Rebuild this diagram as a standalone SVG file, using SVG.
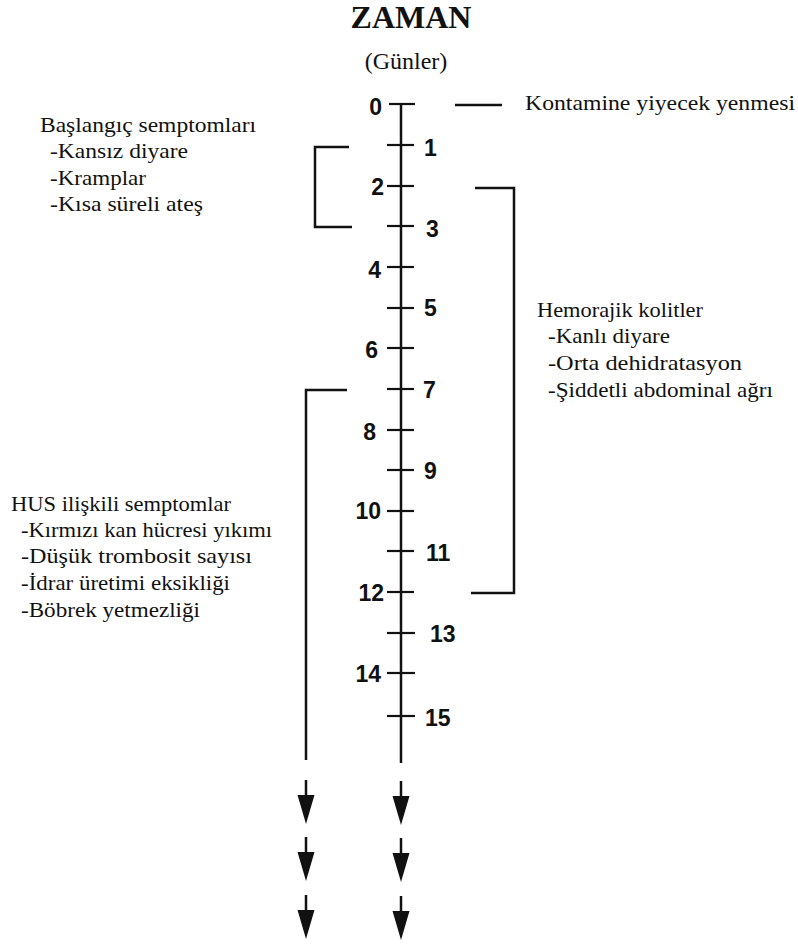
<svg xmlns="http://www.w3.org/2000/svg" xmlns:xlink="http://www.w3.org/1999/xlink" width="798" height="945" viewBox="0 0 798 945">
<style>
.ser{font-family:"Liberation Serif","Times New Roman","DejaVu Serif",serif;font-size:21px;fill:#111}
.num{font-family:"Liberation Sans",Arial,sans-serif;font-size:23px;font-weight:bold;fill:#111}
.ln{stroke:#111;stroke-width:2.5;fill:none}
.tk{stroke:#111;stroke-width:2.2}
.ah{fill:#111}
</style>
<defs>
<g id="arr">
<line x1="0" y1="0" x2="0" y2="17" stroke="#111" stroke-width="2.5"/>
<polygon points="-8.5,15 8.5,15 0,44" class="ah"/>
</g>
</defs>
<rect width="798" height="945" fill="#fff"/>
<g id="title" font-family="'Liberation Serif','Times New Roman',serif">
<text x="411" y="28" text-anchor="middle" font-family="'Liberation Serif','Times New Roman',serif" font-size="32" font-weight="bold" fill="#111">ZAMAN</text>
<text x="406" y="69" text-anchor="middle" class="ser" style="font-size:24px">(Günler)</text>
</g>
<g id="axis">
<line x1="401" y1="104" x2="401" y2="763" class="ln"/>
<g class="tk">
<line x1="389" y1="104" x2="415" y2="104"/>
<line x1="387" y1="145" x2="414" y2="145"/>
<line x1="387" y1="186" x2="414" y2="186"/>
<line x1="387" y1="226" x2="414" y2="226"/>
<line x1="387" y1="267" x2="414" y2="267"/>
<line x1="387" y1="308" x2="414" y2="308"/>
<line x1="387" y1="348" x2="414" y2="348"/>
<line x1="387" y1="389" x2="414" y2="389"/>
<line x1="387" y1="430" x2="414" y2="430"/>
<line x1="387" y1="470" x2="414" y2="470"/>
<line x1="387" y1="511" x2="414" y2="511"/>
<line x1="387" y1="551" x2="414" y2="551"/>
<line x1="387" y1="592" x2="414" y2="592"/>
<line x1="387" y1="633" x2="415" y2="633"/>
<line x1="387" y1="673" x2="415" y2="673"/>
<line x1="387" y1="716" x2="415" y2="716"/>
</g>
<g class="num">
<text x="382" y="115" text-anchor="end">0</text>
<text x="424" y="156">1</text>
<text x="384" y="195" text-anchor="end">2</text>
<text x="426" y="237">3</text>
<text x="381" y="278" text-anchor="end">4</text>
<text x="424" y="316">5</text>
<text x="378" y="358" text-anchor="end">6</text>
<text x="423" y="398">7</text>
<text x="376" y="440" text-anchor="end">8</text>
<text x="424" y="479">9</text>
<text x="381" y="519" text-anchor="end">10</text>
<text x="426" y="561">11</text>
<text x="384" y="601" text-anchor="end">12</text>
<text x="430" y="642">13</text>
<text x="381" y="682" text-anchor="end">14</text>
<text x="425" y="726">15</text>
</g>
</g>
<g id="kontamine">
<text x="525" y="110" class="ser" textLength="270" lengthAdjust="spacingAndGlyphs">Kontamine yiyecek yenmesi</text>
</g>
<g id="baslangic">
<text x="40" y="132" class="ser" textLength="216" lengthAdjust="spacingAndGlyphs">Başlangıç semptomları</text>
<text x="50" y="158" class="ser" textLength="138" lengthAdjust="spacingAndGlyphs">-Kansız diyare</text>
<text x="50" y="185" class="ser" textLength="96" lengthAdjust="spacingAndGlyphs">-Kramplar</text>
<text x="50" y="211" class="ser" textLength="153" lengthAdjust="spacingAndGlyphs">-Kısa süreli ateş</text>
</g>
<g id="hemorajik">
<text x="537" y="317" class="ser" textLength="166" lengthAdjust="spacingAndGlyphs">Hemorajik kolitler</text>
<text x="548" y="343" class="ser" textLength="122" lengthAdjust="spacingAndGlyphs">-Kanlı diyare</text>
<text x="548" y="370" class="ser" textLength="194" lengthAdjust="spacingAndGlyphs">-Orta dehidratasyon</text>
<text x="548" y="397" class="ser" textLength="225" lengthAdjust="spacingAndGlyphs">-Şiddetli abdominal ağrı</text>
</g>
<g id="hus">
<text x="11" y="511" class="ser" textLength="220" lengthAdjust="spacingAndGlyphs">HUS ilişkili semptomlar</text>
<text x="21" y="537" class="ser" textLength="251" lengthAdjust="spacingAndGlyphs">-Kırmızı kan hücresi yıkımı</text>
<text x="21" y="563" class="ser" textLength="231" lengthAdjust="spacingAndGlyphs">-Düşük trombosit sayısı</text>
<text x="21" y="590" class="ser" textLength="209" lengthAdjust="spacingAndGlyphs">-İdrar üretimi eksikliği</text>
<text x="21" y="617" class="ser" textLength="179" lengthAdjust="spacingAndGlyphs">-Böbrek yetmezliği</text>
</g>
<g id="connectors">
<line x1="455" y1="105" x2="502" y2="105" class="ln"/>
<polyline points="349,147 315,147 315,227 352,227" class="ln"/>
<polyline points="475,188 514,188 514,593 471,593" class="ln"/>
<polyline points="347,390 306,390 306,760" class="ln"/>
<use xlink:href="#arr" x="306" y="780"/>
<use xlink:href="#arr" x="306" y="837"/>
<use xlink:href="#arr" x="306" y="895"/>
<use xlink:href="#arr" x="401" y="781"/>
<use xlink:href="#arr" x="401" y="838"/>
<use xlink:href="#arr" x="401" y="896"/>
</g>
</svg>
